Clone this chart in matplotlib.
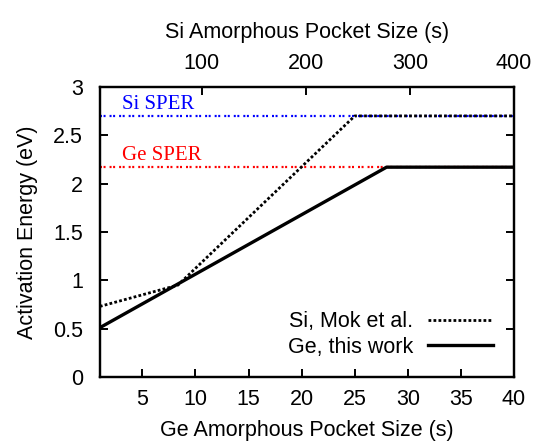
import numpy as np
import matplotlib.pyplot as plt

plt.rcParams['font.family'] = ['Liberation Sans', 'DejaVu Sans']

# Ge, this work (bottom axis, Ge pocket size)
ge_size = [1, 28, 40]
ge_energy = [0.51, 2.17, 2.17]

# Si, Mok et al. (top axis, Si pocket size)
si_size = [2, 77, 247, 400]
si_energy = [0.73, 0.95, 2.70, 2.70]

si_sper = 2.70
ge_sper = 2.17

fig = plt.figure(figsize=(5.34, 4.48), dpi=100)
ax = fig.add_axes([0.187, 0.1585, 0.7755, 0.6475])
ax2 = ax.twiny()

sper_ls = (0, (0.9, 0.7, 0.9, 1.8))
ax.axhline(si_sper, color='blue', lw=1.6, ls=sper_ls)
ax.axhline(ge_sper, color='red', lw=1.6, ls=sper_ls)
ax.plot(ge_size, ge_energy, color='black', lw=2.4, label='Ge, this work')
ax2.plot(si_size, si_energy, color='black', lw=2.0, ls=(0, (1, 0.8)),
         label='Si, Mok et al.')

serif = ['Liberation Serif', 'DejaVu Serif']
ax.text(3.1, 2.77, 'Si SPER', color='blue', fontsize=15, family=serif)
ax.text(3.1, 2.24, 'Ge SPER', color='red', fontsize=15, family=serif)

ax.set_xlim(1, 40)
ax.set_ylim(0, 3)
ax2.set_xlim(2, 400)
ax.set_xticks([5, 10, 15, 20, 25, 30, 35, 40])
ax.set_yticks([0, 0.5, 1, 1.5, 2, 2.5, 3])
ax.set_yticklabels(['0', '0.5', '1', '1.5', '2', '2.5', '3'])
ax2.set_xticks([100, 200, 300, 400])

for a in (ax, ax2):
    for s in a.spines.values():
        s.set_linewidth(1.6)
ax.tick_params(direction='in', length=6, width=1.4, labelsize=15.5, right=True)
ax.tick_params(axis='y', pad=12)
ax.tick_params(axis='x', pad=9)
ax2.tick_params(direction='in', length=6, width=1.4, labelsize=15.5, pad=9)

ax.set_xlabel('Ge Amorphous Pocket Size (s)', fontsize=15.5, labelpad=7)
ax.set_ylabel('Activation Energy (eV)', fontsize=15.5, labelpad=11)
ax2.set_xlabel('Si Amorphous Pocket Size (s)', fontsize=15.5, labelpad=11)

h1, l1 = ax2.get_legend_handles_labels()
h2, l2 = ax.get_legend_handles_labels()
ax.legend(h1 + h2, l1 + l2, loc='lower right', bbox_to_anchor=(0.985, 0.015),
          frameon=False, markerfirst=False, fontsize=15.5, handlelength=3.0,
          labelspacing=0.2, handletextpad=0.7, borderpad=0.2)

fig.savefig('out.png', dpi=100)
